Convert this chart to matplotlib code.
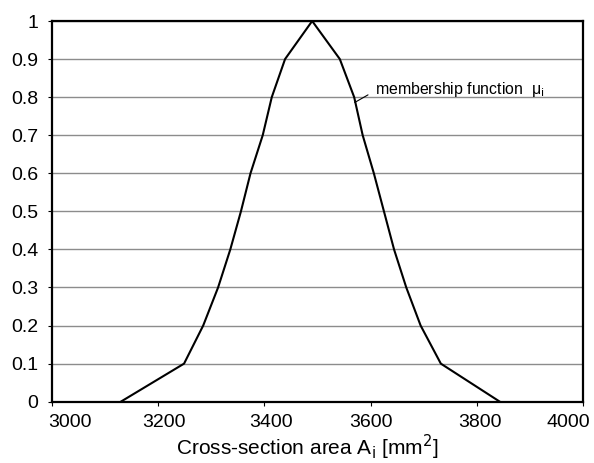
import matplotlib.pyplot as plt
import matplotlib.transforms as mtransforms

plt.rcParams['font.family'] = ['Liberation Sans', 'DejaVu Sans']

# 단면적 A_i [mm^2] 과 소속함수 값 mu_i
area = [3130, 3249, 3285, 3313, 3336, 3356, 3374, 3397, 3414, 3439, 3490,
        3542, 3569, 3585, 3606, 3625, 3644, 3667, 3694, 3732, 3843]
mu = [0, 0.1, 0.2, 0.3, 0.4, 0.5, 0.6, 0.7, 0.8, 0.9, 1.0,
      0.9, 0.8, 0.7, 0.6, 0.5, 0.4, 0.3, 0.2, 0.1, 0]
xticks = [3000, 3200, 3400, 3600, 3800, 4000]
yticks = [0, 0.1, 0.2, 0.3, 0.4, 0.5, 0.6, 0.7, 0.8, 0.9, 1]
ylabels = ['0', '0.1', '0.2', '0.3', '0.4', '0.5', '0.6', '0.7', '0.8', '0.9', '1']
# x 눈금 라벨이 원본에서 조금씩 옆으로 밀려 있음 (px)
xlabel_shift = [18, 6, 6.5, 0.7, 3, -15]

fig = plt.figure(figsize=(5.94, 4.63), dpi=100)
ax = fig.add_axes([0.087, 0.1324, 0.895, 0.8222])

ax.plot(area, mu, color='black', lw=1.5, zorder=3)

ax.set_xlim(3000, 4000)
ax.set_ylim(0, 1)
ax.set_xticks(xticks)
ax.set_yticks(yticks)
ax.set_yticklabels(ylabels)
ax.tick_params(direction='out', length=3.2, width=0.8, labelsize=14)
ax.tick_params(axis='x', pad=6)
ax.tick_params(axis='y', pad=6.5)
ax.yaxis.grid(True, color='#8c8c8c', lw=1)
ax.set_axisbelow(True)
for s in ax.spines.values():
    s.set_color('black')
    s.set_linewidth(1.6)

fig.canvas.draw()
for lab, dx in zip(ax.get_xticklabels(), xlabel_shift):
    lab.set_transform(lab.get_transform() +
                      mtransforms.ScaledTranslation(dx / 100, 0, fig.dpi_scale_trans))

ax.set_xlabel('Cross-section area A$_\\mathrm{i}$ [mm$^2$]', fontsize=15)
ax.xaxis.set_label_coords(307 / 594, 7.5 / 463, transform=fig.transFigure)
ax.xaxis.label.set_va('baseline')

# 주석 (지시선 + 텍스트)
ax.annotate('', xy=(3570, 0.786), xytext=(3595, 0.806),
            arrowprops=dict(arrowstyle='-', color='black', lw=0.8,
                            shrinkA=0, shrinkB=0))
ax.text(3608, 0.808, 'membership function  μ$_\\mathrm{i}$',
        fontsize=11.4, va='baseline', ha='left')

fig.savefig('out.png', dpi=100)
